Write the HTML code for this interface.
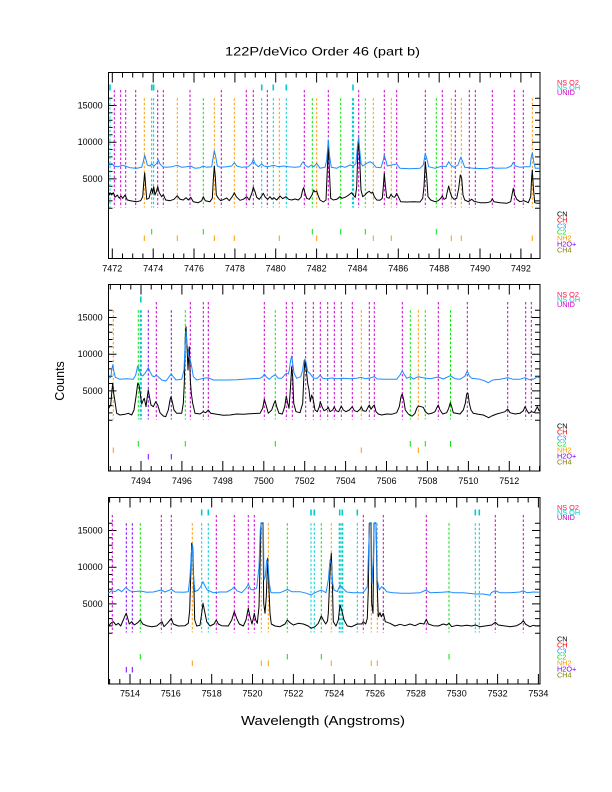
<!DOCTYPE html>
<html><head><meta charset="utf-8"><style>
html,body{margin:0;padding:0;background:#fff;}
svg{display:block;}
text{font-family:"Liberation Sans",Arial,sans-serif;}
</style></head><body>
<svg width="612" height="792" viewBox="0 0 612 792" xmlns="http://www.w3.org/2000/svg">
<rect width="612" height="792" fill="#fff"/>
<text x="322.5" y="55.3" font-size="12" text-anchor="middle" textLength="195" lengthAdjust="spacingAndGlyphs">122P/deVico Order 46 (part b)</text>
<text transform="translate(64,381) rotate(-90)" font-size="12.5" text-anchor="middle">Counts</text>
<text x="323" y="725" font-size="12.5" text-anchor="middle" textLength="164" lengthAdjust="spacingAndGlyphs">Wavelength (Angstroms)</text>

<g fill="none" stroke="#000" stroke-width="1">
<rect x="108.5" y="72.5" width="431.5" height="186"/>
<rect x="108.5" y="284.5" width="431.5" height="186.5"/>
<rect x="108.5" y="497.5" width="431.5" height="186.5"/>
</g>

<g stroke="#000" stroke-width="1">
<path d="M108.5 208.3h4M108.5 200.9h4M108.5 193.6h4M108.5 186.2h4M108.5 178.9h8M108.5 171.5h4M108.5 164.2h4M108.5 156.9h4M108.5 149.5h4M108.5 142.2h8M108.5 134.8h4M108.5 127.5h4M108.5 120.2h4M108.5 112.8h4M108.5 105.5h8M108.5 98.2h4"/>
<path d="M540 208.3h-5M540 200.9h-5M540 193.6h-5M540 186.2h-5M540 178.9h-8M540 171.5h-5M540 164.2h-5M540 156.9h-5M540 149.5h-5M540 142.2h-8M540 134.8h-5M540 127.5h-5M540 120.2h-5M540 112.8h-5M540 105.5h-8M540 98.2h-5"/>
<path d="M108.5 420.3h4M108.5 412.9h4M108.5 405.6h4M108.5 398.2h4M108.5 390.9h8M108.5 383.5h4M108.5 376.2h4M108.5 368.9h4M108.5 361.5h4M108.5 354.2h8M108.5 346.8h4M108.5 339.5h4M108.5 332.2h4M108.5 324.8h4M108.5 317.5h8M108.5 310.2h4"/>
<path d="M540 420.3h-5M540 412.9h-5M540 405.6h-5M540 398.2h-5M540 390.9h-8M540 383.5h-5M540 376.2h-5M540 368.9h-5M540 361.5h-5M540 354.2h-8M540 346.8h-5M540 339.5h-5M540 332.2h-5M540 324.8h-5M540 317.5h-8M540 310.2h-5"/>
<path d="M108.5 633.3h4M108.5 625.9h4M108.5 618.6h4M108.5 611.2h4M108.5 603.9h8M108.5 596.5h4M108.5 589.2h4M108.5 581.9h4M108.5 574.5h4M108.5 567.2h8M108.5 559.8h4M108.5 552.5h4M108.5 545.2h4M108.5 537.8h4M108.5 530.5h8M108.5 523.2h4"/>
<path d="M540 633.3h-5M540 625.9h-5M540 618.6h-5M540 611.2h-5M540 603.9h-8M540 596.5h-5M540 589.2h-5M540 581.9h-5M540 574.5h-5M540 567.2h-8M540 559.8h-5M540 552.5h-5M540 545.2h-5M540 537.8h-5M540 530.5h-8M540 523.2h-5"/>
</g>
<g font-size="9" text-anchor="end">
<text x="102.7" y="108.5">15000</text><text x="102.7" y="145.2">10000</text><text x="102.7" y="181.9">5000</text>
<text x="102.7" y="320.5">15000</text><text x="102.7" y="357.2">10000</text><text x="102.7" y="393.9">5000</text>
<text x="102.7" y="533.5">15000</text><text x="102.7" y="570.2">10000</text><text x="102.7" y="606.9">5000</text>
</g>

<g stroke="#000" stroke-width="1">
<path d="M112.3 258.5v-10M122.5 258.5v-5M132.7 258.5v-5M142.9 258.5v-5M153.2 258.5v-10M163.4 258.5v-5M173.6 258.5v-5M183.8 258.5v-5M194.0 258.5v-10M204.2 258.5v-5M214.5 258.5v-5M224.7 258.5v-5M234.9 258.5v-10M245.1 258.5v-5M255.3 258.5v-5M265.5 258.5v-5M275.7 258.5v-10M286.0 258.5v-5M296.2 258.5v-5M306.4 258.5v-5M316.6 258.5v-10M326.8 258.5v-5M337.0 258.5v-5M347.3 258.5v-5M357.5 258.5v-10M367.7 258.5v-5M377.9 258.5v-5M388.1 258.5v-5M398.3 258.5v-10M408.5 258.5v-5M418.8 258.5v-5M429.0 258.5v-5M439.2 258.5v-10M449.4 258.5v-5M459.6 258.5v-5M469.8 258.5v-5M480.0 258.5v-10M490.3 258.5v-5M500.5 258.5v-5M510.7 258.5v-5M520.9 258.5v-10M531.1 258.5v-5"/>
<path d="M112.3 72.5v10M122.5 72.5v5M132.7 72.5v5M142.9 72.5v5M153.2 72.5v10M163.4 72.5v5M173.6 72.5v5M183.8 72.5v5M194.0 72.5v10M204.2 72.5v5M214.5 72.5v5M224.7 72.5v5M234.9 72.5v10M245.1 72.5v5M255.3 72.5v5M265.5 72.5v5M275.7 72.5v10M286.0 72.5v5M296.2 72.5v5M306.4 72.5v5M316.6 72.5v10M326.8 72.5v5M337.0 72.5v5M347.3 72.5v5M357.5 72.5v10M367.7 72.5v5M377.9 72.5v5M388.1 72.5v5M398.3 72.5v10M408.5 72.5v5M418.8 72.5v5M429.0 72.5v5M439.2 72.5v10M449.4 72.5v5M459.6 72.5v5M469.8 72.5v5M480.0 72.5v10M490.3 72.5v5M500.5 72.5v5M510.7 72.5v5M520.9 72.5v10M531.1 72.5v5"/>
<path d="M110.3 471v-5M120.5 471v-5M130.8 471v-5M141.0 471v-10M151.2 471v-5M161.5 471v-5M171.7 471v-5M181.9 471v-10M192.2 471v-5M202.4 471v-5M212.6 471v-5M222.8 471v-10M233.1 471v-5M243.3 471v-5M253.5 471v-5M263.8 471v-10M274.0 471v-5M284.2 471v-5M294.5 471v-5M304.7 471v-10M314.9 471v-5M325.1 471v-5M335.4 471v-5M345.6 471v-10M355.8 471v-5M366.1 471v-5M376.3 471v-5M386.5 471v-10M396.8 471v-5M407.0 471v-5M417.2 471v-5M427.4 471v-10M437.7 471v-5M447.9 471v-5M458.1 471v-5M468.4 471v-10M478.6 471v-5M488.8 471v-5M499.1 471v-5M509.3 471v-10M519.5 471v-5M529.7 471v-5M539.5 471v-5"/>
<path d="M110.3 284.5v5M120.5 284.5v5M130.8 284.5v5M141.0 284.5v10M151.2 284.5v5M161.5 284.5v5M171.7 284.5v5M181.9 284.5v10M192.2 284.5v5M202.4 284.5v5M212.6 284.5v5M222.8 284.5v10M233.1 284.5v5M243.3 284.5v5M253.5 284.5v5M263.8 284.5v10M274.0 284.5v5M284.2 284.5v5M294.5 284.5v5M304.7 284.5v10M314.9 284.5v5M325.1 284.5v5M335.4 284.5v5M345.6 284.5v10M355.8 284.5v5M366.1 284.5v5M376.3 284.5v5M386.5 284.5v10M396.8 284.5v5M407.0 284.5v5M417.2 284.5v5M427.4 284.5v10M437.7 284.5v5M447.9 284.5v5M458.1 284.5v5M468.4 284.5v10M478.6 284.5v5M488.8 284.5v5M499.1 284.5v5M509.3 284.5v10M519.5 284.5v5M529.7 284.5v5"/>
<path d="M109.6 684v-5M119.8 684v-5M130.0 684v-10M140.2 684v-5M150.4 684v-5M160.6 684v-5M170.8 684v-10M181.1 684v-5M191.3 684v-5M201.5 684v-5M211.7 684v-10M221.9 684v-5M232.1 684v-5M242.3 684v-5M252.5 684v-10M262.7 684v-5M272.9 684v-5M283.2 684v-5M293.4 684v-10M303.6 684v-5M313.8 684v-5M324.0 684v-5M334.2 684v-10M344.4 684v-5M354.6 684v-5M364.8 684v-5M375.0 684v-10M385.3 684v-5M395.5 684v-5M405.7 684v-5M415.9 684v-10M426.1 684v-5M436.3 684v-5M446.5 684v-5M456.7 684v-10M466.9 684v-5M477.1 684v-5M487.4 684v-5M497.6 684v-10M507.8 684v-5M518.0 684v-5M528.2 684v-5M538.4 684v-10"/>
<path d="M109.6 497.5v5M119.8 497.5v5M130.0 497.5v10M140.2 497.5v5M150.4 497.5v5M160.6 497.5v5M170.8 497.5v10M181.1 497.5v5M191.3 497.5v5M201.5 497.5v5M211.7 497.5v10M221.9 497.5v5M232.1 497.5v5M242.3 497.5v5M252.5 497.5v10M262.7 497.5v5M272.9 497.5v5M283.2 497.5v5M293.4 497.5v10M303.6 497.5v5M313.8 497.5v5M324.0 497.5v5M334.2 497.5v10M344.4 497.5v5M354.6 497.5v5M364.8 497.5v5M375.0 497.5v10M385.3 497.5v5M395.5 497.5v5M405.7 497.5v5M415.9 497.5v10M426.1 497.5v5M436.3 497.5v5M446.5 497.5v5M456.7 497.5v10M466.9 497.5v5M477.1 497.5v5M487.4 497.5v5M497.6 497.5v10M507.8 497.5v5M518.0 497.5v5M528.2 497.5v5M538.4 497.5v10"/>
</g>
<g font-size="9" text-anchor="middle">
<text x="112.3" y="271.5">7472</text><text x="153.2" y="271.5">7474</text><text x="194.0" y="271.5">7476</text><text x="234.9" y="271.5">7478</text><text x="275.7" y="271.5">7480</text><text x="316.6" y="271.5">7482</text><text x="357.5" y="271.5">7484</text><text x="398.3" y="271.5">7486</text><text x="439.2" y="271.5">7488</text><text x="480.0" y="271.5">7490</text><text x="520.9" y="271.5">7492</text>
<text x="141.0" y="484">7494</text><text x="181.9" y="484">7496</text><text x="222.8" y="484">7498</text><text x="263.8" y="484">7500</text><text x="304.7" y="484">7502</text><text x="345.6" y="484">7504</text><text x="386.5" y="484">7506</text><text x="427.4" y="484">7508</text><text x="468.4" y="484">7510</text><text x="509.3" y="484">7512</text>
<text x="130.0" y="696.7">7514</text><text x="170.8" y="696.7">7516</text><text x="211.7" y="696.7">7518</text><text x="252.5" y="696.7">7520</text><text x="293.4" y="696.7">7522</text><text x="334.2" y="696.7">7524</text><text x="375.0" y="696.7">7526</text><text x="415.9" y="696.7">7528</text><text x="456.7" y="696.7">7530</text><text x="497.6" y="696.7">7532</text><text x="538.4" y="696.7">7534</text>
</g>

<g stroke-width="1" stroke-dasharray="2.5 2" fill="none">
<path stroke="#cc00cc" d="M114.3 90V207.5M120.7 90V207.5M125.7 90V207.5M135.7 90V207.5M157.7 90V207.5M163.3 90V207.5M190 90V207.5M221.3 90V207.5M246.3 90V207.5M253.3 90V207.5M267.3 90V207.5M304.3 90V207.5M328.3 90V207.5M358.7 90V207.5M384.3 90V207.5M396.7 90V207.5M425.3 90V207.5M442.3 90V207.5M455.3 90V207.5M469.3 90V207.5M475.3 90V207.5M492.3 90V207.5M514.3 90V207.5M523.3 90V207.5"/>
<path stroke="#ff9900" d="M144.3 98.3V207.5M177.3 98.3V207.5M214.3 98.3V207.5M234.3 98.3V207.5M279.3 98.3V207.5M316.7 98.3V207.5M373.3 98.3V207.5M391.3 98.3V207.5M451.3 98.3V207.5M461.3 98.3V207.5M532.3 98.3V207.5"/>
<path stroke="#00e600" d="M203.3 98.3V207.5M312.3 98.3V207.5M340.7 98.3V207.5M365.3 98.3V207.5M436.3 98.3V207.5"/>
<path stroke="#00cccc" d="M110 98.3V207.5M151.7 98.3V207.5M153.6 98.3V207.5M261.7 98.3V207.5M273.3 98.3V207.5M286.3 98.3V207.5"/>
<path stroke="#00cccc" stroke-width="2.2" d="M353 98.3V207.5"/>
<path stroke="#cc00cc" d="M156.3 302V419.5M190.3 302V419.5M203.3 302V419.5M208.3 302V419.5M264.3 302V419.5M286.3 302V419.5M292.3 302V419.5M305.7 302V419.5M313.3 302V419.5M320.3 302V419.5M327.7 302V419.5M334.3 302V419.5M341.3 302V419.5M352.3 302V419.5M369.3 302V419.5M374.3 302V419.5M402.3 302V419.5M438.3 302V419.5M467.3 302V419.5M507.7 302V419.5M525.7 302V419.5M531.3 302V419.5"/>
<path stroke="#ff9900" d="M113.3 310.3V419.5M361.3 310.3V419.5M418.3 310.3V419.5"/>
<path stroke="#00e600" d="M138.3 310.3V419.5M185.3 310.3V419.5M275.3 310.3V419.5M410.3 310.3V419.5M425.3 310.3V419.5M450.5 310.3V419.5"/>
<path stroke="#8000ff" d="M148.3 310.3V419.5M171.3 310.3V419.5"/>
<path stroke="#00cccc" stroke-width="2.2" d="M140.8 310.3V419.5"/>
<path stroke="#cc00cc" d="M112.3 515V632.5M161.3 515V632.5M171.3 515V632.5M216.3 515V632.5M234.3 515V632.5M248.3 515V632.5M254.3 515V632.5M363.3 515V632.5M383.3 515V632.5M426.3 515V632.5M495.3 515V632.5M523.3 515V632.5"/>
<path stroke="#8000ff" d="M126.3 523.3V632.5M132.3 523.3V632.5"/>
<path stroke="#00e600" d="M140.3 523.3V632.5M287.3 523.3V632.5M321.3 523.3V632.5M449 523.3V632.5"/>
<path stroke="#ff9900" d="M192.3 523.3V632.5M261.3 523.3V632.5M268.3 523.3V632.5M331.3 523.3V632.5M371.3 523.3V632.5M377.3 523.3V632.5"/>
<path stroke="#00cccc" d="M201.7 523.3V632.5M208.3 523.3V632.5M311 523.3V632.5M314.3 523.3V632.5M357.3 523.3V632.5M475.3 523.3V632.5M479.3 523.3V632.5"/>
<path stroke="#00cccc" stroke-width="2" d="M339.7 523.3V632.5M342.3 523.3V632.5"/>
</g>

<g fill="none" stroke-width="1">
<path stroke="#00cccc" stroke-width="1.6" d="M110 84.5v6M151.7 84.5v6M153.6 84.5v6M261.7 84.5v6M273.3 84.5v6M286.3 84.5v6M353 84.5v6M140.8 296.5v6M201.7 509.5v6M208.3 509.5v6M311 509.5v6M314.3 509.5v6M339.7 509.5v6M342.3 509.5v6M357.3 509.5v6M475.3 509.5v6M479.3 509.5v6"/>
<path stroke="#00e600" d="M151.7 229v5.5M203.3 229v5.5M312.3 229v5.5M340.7 229v5.5M365.3 229v5.5M436.3 229v5.5M138.3 441v5.5M185.3 441v5.5M275.3 441v5.5M410.3 441v5.5M425.3 441v5.5M450.5 441v5.5M140.3 654v5.5M287.3 654v5.5M321.3 654v5.5M449 654v5.5"/>
<path stroke="#ff9900" d="M144.3 235.5v5.5M177.3 235.5v5.5M214.3 235.5v5.5M234.3 235.5v5.5M279.3 235.5v5.5M316.7 235.5v5.5M373.3 235.5v5.5M391.3 235.5v5.5M451.3 235.5v5.5M461.3 235.5v5.5M532.3 235.5v5.5M113.3 447.5v5.5M361.3 447.5v5.5M418.3 447.5v5.5M192.3 660.5v5.5M261.3 660.5v5.5M268.3 660.5v5.5M331.3 660.5v5.5M371.3 660.5v5.5M377.3 660.5v5.5"/>
<path stroke="#8000ff" d="M148.3 454v5.5M171.3 454v5.5M126.3 667v5.5M132.3 667v5.5"/>
</g>

<g fill="none" stroke-width="1" stroke-linejoin="round">
<polyline stroke="#000" points="108.3,196.7 110,192.7 111.7,195 113.3,192.7 115,197.3 117.3,195 119.3,198.3 121,196 122.7,198.3 125,195 127.3,200 131.7,201 136.7,201.7 140.7,200.7 142.7,196.7 143.7,183.3 144.7,172.7 145.7,186.7 146.7,199.3 149,198.3 150.7,191.7 151.7,188.3 152.7,193.3 153.7,186.7 155,195 156.3,191.7 157.7,186.7 159.3,192.7 161.7,196.7 163.3,194.7 165.7,200 170,200.7 174,199.3 177.3,195.7 180,199.3 183.3,200 186,197.7 188.3,200 190.7,197.3 193.3,201.7 198.3,202.7 201.7,200.7 203.3,196.7 205.3,200.7 210,201.7 212.3,198.3 213.3,180 214.3,166 215.3,176.7 216.3,195 218.3,198.3 220.7,200.7 224,199.3 226.7,198 229.3,200.7 232.7,196 234.3,192.7 236.3,196.7 240,200.3 243.3,199.3 246.7,196.7 249.3,200 252,192.7 253.3,187.3 255,191.7 256.7,197.3 259.3,199.3 261.7,196 263.3,193.3 265.3,197.3 267.7,199.3 270,196.7 272,199.3 274,197.7 276.7,200 280,196 282.7,198.7 286,196.7 288.7,199.3 291.7,200 295,199 298.3,200 301,197.3 302.7,190 303.7,187.7 305,193.3 306.7,198.3 309.3,199.3 312,195 313.7,190 315,192 316.7,191 318.3,196 320,200 323.3,202 326,200 327.3,170 328.3,142.7 329.3,170 330.7,198.3 333.3,200 336.7,199.3 340,196.7 342,198.3 345,197.3 347.3,196 350,194 351.7,192.7 353.3,195 355.3,197.3 356.7,186.7 358,146.7 358.7,141.7 359.7,160 361,190 362.7,196.7 365,195 367,192.7 369.3,191.3 371.3,193.3 372.7,192 374.3,196.7 376.7,200 380,200.3 382.3,198.3 383.3,186.7 384.3,173.3 385.3,185 386.7,197.3 389,198.3 391,194.3 392.7,196.7 394.7,197.3 396.7,193.3 398.3,196.7 400.7,201.7 406.7,202 413.3,201.7 420,202 422.7,198.3 424,186.7 425.3,161.7 426.7,176.7 428,196.7 430.7,200 435,201.7 438.3,200.7 440.7,198.3 442.3,196 444,199.3 446,198.3 447.3,191.7 448.7,186 450,191.7 451.7,196.7 454,199.3 456.7,198.3 458.7,188.3 460.3,175 461.7,178.3 463,195 464.7,200 468.3,201.7 471.7,199.3 474,201.3 480,202.7 486.7,202.7 490.7,201.7 492.3,198.7 494,201.7 500,202.7 506.7,203.3 510.7,201.7 512.3,193.3 513.3,188.3 514.7,195 516.7,199.3 520,201.7 524,200.7 528.3,202.7 530.7,196.7 531.7,176.7 532.3,170 533.3,186.7 534.7,202.7 537.3,203.3 540,203.3"/>
<polyline stroke="#1a8cff" points="108.3,164 110,165 111.7,163.3 114,166 118.3,166.7 121.7,165.3 125,166 130,167.7 136.7,168.3 141.7,167.3 143.3,161.7 144.7,155 146,160 147.3,165 150,166 151.7,164 154,166 156.7,163.3 158.3,160 160,164 162.7,166.7 166.7,167.3 171.7,166.7 177.3,165.3 181.7,167.3 186.7,166.7 190.7,166 195,168.3 200,167.7 203.3,166 206.7,167.3 211.7,166.7 213.3,156.7 214.3,150.7 215.7,156.7 217.3,166 220.7,167.3 226.7,166.7 231.7,166 234.3,162.7 236.7,166 241.7,167.3 248.3,166.7 251.7,163.3 253.3,159.3 255.3,164 258.3,166.7 261.7,164 264,166 268.3,166.7 273.3,165.3 278.3,166.7 283.3,166 288.3,166.7 295,167.3 300,166.7 302,163.3 303.3,161.7 305,165 308.3,167.3 311.7,165 314,166.7 316.7,163.3 320,168.3 325,167.3 326.7,160 328.3,140 329.7,156.7 331.3,167.3 336.7,168.3 340.7,166 345,167.3 350,165 353.3,166 356,163.3 357.7,143.3 358.7,137.3 359.7,150 361,163.3 362.7,166 366.7,163.3 370,161.7 372.7,163.3 376,167.3 381,167.7 383.3,160 384.3,155 385.7,160 387.3,166 391.7,165 396.7,164 400,168.3 410,168.7 420,168.3 423.3,165 425.3,153.3 426.7,158.3 428.7,166.7 435,168.3 442.3,166 446,166.7 448.7,161.7 450.7,165 454,167.3 458,165 460.7,157.3 462.7,161.7 464.7,167.3 473.3,168.3 486.7,168.7 492.3,166.7 495,168.3 506.7,168 511.3,166 513.3,162.3 515.3,166 520,167.3 525,166.7 530,166.7 531.3,156.7 532.3,152.7 533.7,161.7 535.3,168.3 540,168.3"/>

<polyline stroke="#000" points="108.7,408.3 110.7,405 112,390 112.7,383.3 113.7,393.3 115,401.7 116.7,413.3 120,415 125,414.3 128.3,413.3 131.7,415 134,410 136,396.7 137.7,383.3 139,385 140.3,394 141.7,404 143.3,400 144.3,398.3 146,406.7 147.3,396.7 148.3,390 149.7,398.3 151,405 153.3,406.7 155.7,401.7 157.7,405 160,412.7 163.3,416 165.7,416.7 168.3,410 170,400 171,396.7 172.3,401.7 174,410 176.7,413.3 181.7,413.3 183.3,403.3 184.3,383.3 185.3,336.7 186,326.7 187,346.7 188,370 188.7,356.7 189.3,346.7 190.3,380 191.3,393.3 192.7,403.3 195,413.3 200,414 203.3,411.7 205.7,412.7 208.3,410 210.7,413.3 216.7,414.3 223.3,415.3 230,415 236.7,414 243.3,414.3 250,413.7 260,413.3 262.7,408.3 264.3,399.3 266,405 268.3,413.3 271.7,410 274,403.3 275.3,400.7 276.7,406.7 279,413.3 282.3,414 284.7,406.7 286.3,396 287.7,403.3 289,408.3 290.3,390 291.7,366.7 292.7,376.7 293.7,403.3 296,411.7 300,412.7 302.7,403.3 304,373.3 305,360 306.3,370 307.7,383.3 309,390 310.3,401.7 311.7,395 313.3,400 315,410 317.3,411.7 319.3,406.7 320.3,401.7 322,406.7 324,410.7 326.7,409.3 328.3,407.3 330,411.7 332.7,410 334.3,406.7 336,410.7 338.7,411.7 341.3,406 343.3,410 346,411.7 349.3,410 352.3,406.7 354.3,410.7 357.3,411.7 360,409.3 361.3,406.7 363,410.7 366,411.3 368,407.3 369.3,405 371,409.3 372.7,406.7 374.3,405 376,411.7 378.3,414 381.7,415 386.7,414 391.7,414.3 396.7,412.7 399.3,406.7 401,396.7 402.3,394 403.7,400 405.3,410 408.3,414 410.7,415.7 412.3,416 415,413.3 416.7,408.3 418.3,406 421,406.7 423.3,407.3 425.3,411.7 428.3,414 431.7,413.3 435,411.7 437,407.3 438.3,405 440,410 442.7,414 446.7,412.7 448.7,408.3 450.3,402.7 451.7,406.7 453.3,412.7 460,414 463.3,410 465.3,403.3 466.7,394 468,393.3 469.3,403.3 471,410 473.3,413.3 478.3,414.3 483.3,415 486.7,416.7 488.7,417.7 491.7,416 496.7,414 501.7,412.7 505,411.7 507.7,409 510,412.7 515,414 520,413.3 523.3,410.7 525,406.7 526.7,410 528.7,413.3 531.7,411.7 534.3,412.7 537.3,406.7 539,410.7 540,410"/>
<polyline stroke="#1a8cff" points="108.7,378.3 110.7,377.3 111.7,370 112.7,365 114,371.7 115.3,377.3 120,379.3 126.7,378.7 133.3,379.3 135.7,375 137.7,366 139.3,370 141,375 142.7,376 145,373.3 146.7,370.7 148.3,367.7 150,371.7 152.3,376 154.3,376.7 156.3,375 158.7,377.3 161.7,380 166,381 168.7,377.3 171,374 173.3,376.7 176,380 181.7,379.3 184,370 185,346.7 186,331.7 187,343.3 188,350 189,356.7 190.3,360 191.7,366.7 193.3,376.7 196.7,380 203.3,378.3 208.3,377.7 213.3,380 226.7,380 236.7,379.7 246.7,379 260,378.3 262.7,376.7 264.3,374 266.7,377.3 269.3,379.3 272,376.7 275.3,374.7 278.3,378.3 281.7,378.3 284.7,375 286.3,373.3 288.3,374 289.3,370 290.7,360 291.7,356 292.7,363.3 294,373.3 296.7,378.3 300.7,376.7 302.7,370 304,360.7 305,359.3 306.3,363.3 307.7,371.7 310,373.3 311.7,376 314,378.3 317.3,378.3 320.3,375 322.7,378.3 326.7,378.7 331.7,378 336.7,378.7 343.3,378.3 350,378.7 356.7,378.3 361.3,377.3 365,378.7 370,378 374.3,376.7 377.3,379 386.7,379.3 396.7,379.3 400,375 402.3,370.7 404,374 406.7,378.3 410.3,376.7 413.3,379 418.3,376.7 423.3,377.7 430,378.7 438.3,377 443.3,379 450.3,375.7 455,378.7 460,379.3 465,376 467.3,371 469.3,376 471.7,378.3 480,379.3 485,381 488.3,382.7 492.7,380 500,379.3 507.7,377.7 513.3,379.3 520,379.3 525,377.7 529.3,379.7 534,379 537.3,376.7 540,378.3"/>

<polyline stroke="#000" points="108.3,626.7 110.7,623.3 113.3,621.7 116,625 118.3,623.3 120.7,626 123.3,620 125.3,615 126.3,613.3 127.7,618.3 129.3,624 131.7,621.7 134.3,625 137.7,622.7 140.3,620 142.7,624 146.7,625.7 151.7,626.7 156.7,626 160,623.3 162,621.7 164,626.7 167.3,623.3 170,620 171.3,618.3 173.3,624 178.3,626 185,625.7 188.3,623.3 189.7,610 190.7,576.7 191.7,543.3 192.7,546.7 193.7,580 194.7,620 196.7,626 200,625.3 201.7,613.3 203,603.3 204.7,611.7 206.7,621.7 210,626 214,624 216.3,620 218.3,624 221.7,625.7 228.3,626 231.7,620 234.3,611.7 236.7,618.3 239.3,624 243.3,626 246,620 248.3,608.3 250,616.7 252,624 253.3,618.3 254.3,613.3 255.7,620 257.3,623.3 259,606.7 260,566.7 261,523.3 263,523.3 263.7,603.3 265,613.3 266.3,596.7 267.7,558.3 269,590 270,613.3 271.3,624 275,626 280,626.7 285,624 287.3,620 290,622.7 293.3,625 298.3,623.3 303.3,624 308.3,626 311,628.3 315,626.7 318.3,623.3 321.3,616 323.3,620 325.7,624 327.5,621 328.3,613.3 329.3,590 330.3,566.7 331.3,553.3 332.3,580 333.3,621.7 336,626 338.3,620 340,605 341.7,610 344,620 347.3,626 351.7,626.7 357.3,624 361.7,624 363.3,621.7 365.7,624 367.3,618.3 368.3,590 369.3,523.3 371,523.3 371.7,603.3 373,613.3 374,523.3 376,523.3 377,580 378.3,616.7 380,612.7 381.3,616.7 383.3,613.3 385.3,621.7 390,623.3 395,626 400,624.3 405,625.7 410,624 415,625.7 420,623.3 424,624 426.3,619.3 428.3,624 433.3,625.7 438.3,626 443.3,624 446.7,625 449,623.3 451.7,626.7 456.7,625.3 461.7,626 466.7,625.3 471.7,626 475.3,625 480,626.7 486.7,625.7 491.7,625 495.3,622.3 498.3,625 503.3,625.7 510,626.7 516.7,625.7 521,623.3 523.3,620.7 525.7,624.3 530,626.7 533.3,625.3 536,626 540,625.7"/>
<polyline stroke="#1a8cff" points="108.3,593.3 111.7,590.7 115,591.7 118.3,589.3 121.7,591.7 126,587.3 129.3,590.7 133.3,591.7 140.3,591 146.7,592.3 153.3,592 161.3,590 165,592 171.3,589.3 175,592 183.3,592.3 188.3,591.7 190,576.7 191.3,553.3 192.3,545 193.3,573.3 195,591.7 198.3,590 201,586 203,581.7 205,586 207.3,590 213.3,592.7 220,592 226.7,592 231.7,589.3 234.3,586.7 236.7,590.7 241.7,592.7 246,588.3 248.3,584 250.7,589.3 253.3,590 256.7,588.3 259,566.7 260.3,530 261.3,522.7 263.3,522.7 264,580 265.3,576.7 266.7,560 268,563.3 269.3,583.3 271,592.7 280,592.7 285,590.7 287.3,589.3 291.7,591.7 300,591.7 306.7,593.3 311,595 315,592.7 321.3,590 326,592.7 328.3,580 330,560 331.3,563.3 332.7,583.3 334,590 337.3,591.7 340,585 342.7,588.3 346.7,592 353.3,592.7 363.3,592.7 367.3,586.7 368.7,546.7 369.7,522.7 371.3,522.7 372,583.3 373.3,563.3 374.3,522.7 376,522.7 377.3,580 379.3,590 381.7,586.7 384,588.3 386.7,591.7 393.3,592.7 401.7,593.3 410,593.3 420,592.7 426.3,590 430,592.7 441.7,592.3 449,591.7 453.3,592.7 463.3,592.7 475.3,594 483.3,594 490,595.3 491.3,592.7 495.3,590.7 500,592.7 510,592.7 520,592 523.3,590.7 526.7,592.7 533.3,592 540,592.3"/>
</g>

<g font-size="7.3">
<text x="557" y="85" fill="#ff1744">NS O2</text>
<text x="557" y="90" fill="#00cccc">NS OH</text>
<text x="557" y="95" fill="#cc00cc">UNID</text>
<text x="557" y="216.5" fill="#000">CN</text>
<text x="557" y="222.5" fill="#ff0000">CH</text>
<text x="557" y="228.5" fill="#1a8cff">C3</text>
<text x="557" y="234.5" fill="#00e600">C2</text>
<text x="557" y="240.5" fill="#ff9900">NH2</text>
<text x="557" y="246.5" fill="#8000ff">H2O+</text>
<text x="557" y="252.5" fill="#808000">CH4</text>

<text x="557" y="297" fill="#ff1744">NS O2</text>
<text x="557" y="302" fill="#00cccc">NS OH</text>
<text x="557" y="307" fill="#cc00cc">UNID</text>
<text x="557" y="428.5" fill="#000">CN</text>
<text x="557" y="434.5" fill="#ff0000">CH</text>
<text x="557" y="440.5" fill="#1a8cff">C3</text>
<text x="557" y="446.5" fill="#00e600">C2</text>
<text x="557" y="452.5" fill="#ff9900">NH2</text>
<text x="557" y="458.5" fill="#8000ff">H2O+</text>
<text x="557" y="464.5" fill="#808000">CH4</text>

<text x="557" y="510" fill="#ff1744">NS O2</text>
<text x="557" y="515" fill="#00cccc">NS OH</text>
<text x="557" y="520" fill="#cc00cc">UNID</text>
<text x="557" y="641.5" fill="#000">CN</text>
<text x="557" y="647.5" fill="#ff0000">CH</text>
<text x="557" y="653.5" fill="#1a8cff">C3</text>
<text x="557" y="659.5" fill="#00e600">C2</text>
<text x="557" y="665.5" fill="#ff9900">NH2</text>
<text x="557" y="671.5" fill="#8000ff">H2O+</text>
<text x="557" y="677.5" fill="#808000">CH4</text>
</g>
</svg>
</body></html>
